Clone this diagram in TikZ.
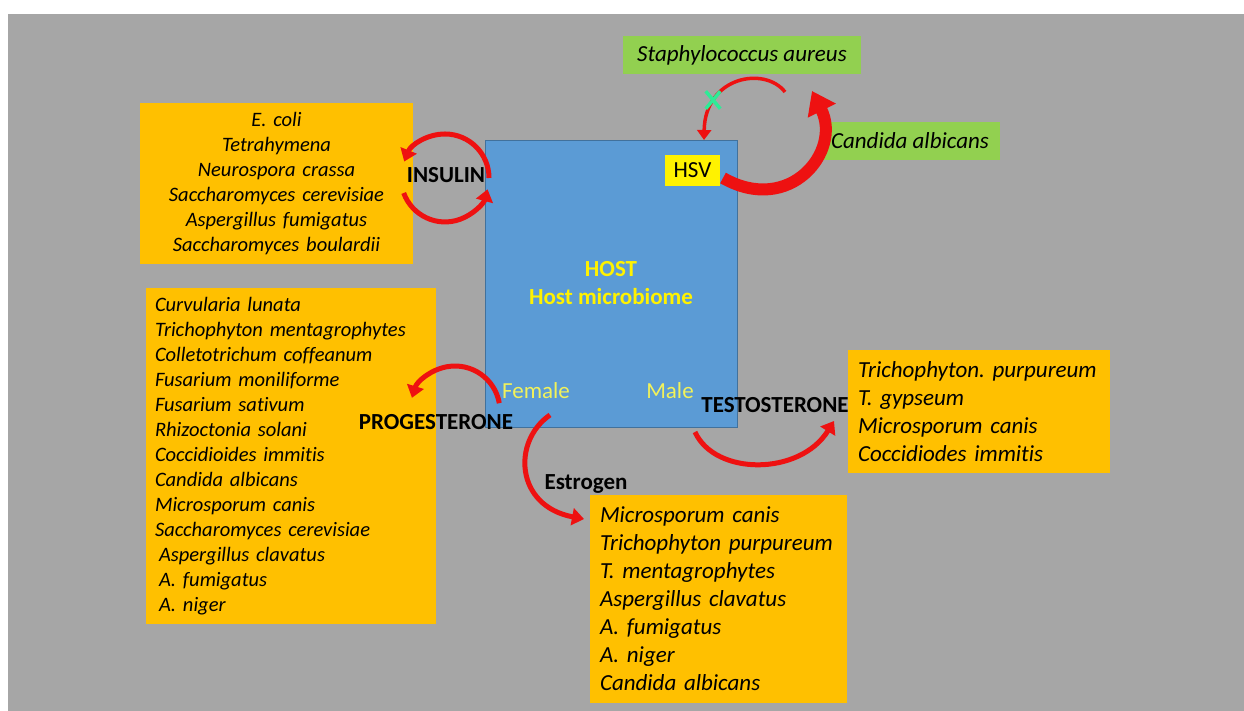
\documentclass[tikz,border=0pt]{standalone}
\usepackage{fontspec}
\setmainfont{Carlito}[Ligatures=NoCommon]
\usetikzlibrary{arrows.meta,shapes.misc}
\definecolor{bggrey}{HTML}{A6A6A6}
\definecolor{hostblue}{HTML}{5B9BD5}
\definecolor{hostedge}{HTML}{41719C}
\definecolor{boxorange}{HTML}{FFC000}
\definecolor{boxgreen}{HTML}{92D050}
\definecolor{arrowred}{HTML}{EE1111}
\definecolor{sexyellow}{HTML}{F2F25A}
\definecolor{crossgreen}{HTML}{2EEB96}
\frenchspacing
\begin{document}
\begin{tikzpicture}[x=1pt,y=1pt,
    listbox/.style={fill=boxorange,inner ysep=0pt,align=left,font=\itshape\fontsize{20.5}{25}\selectfont},
    bigbox/.style={fill=boxorange,inner ysep=0pt,align=left,font=\itshape\fontsize{23}{28}\selectfont},
    germbox/.style={fill=boxgreen,inner sep=0pt,font=\itshape\fontsize{23}{28}\selectfont},
    hormone/.style={inner sep=0pt,font=\bfseries\fontsize{23}{28}\selectfont},
    redarrow/.style={draw=arrowred,line width=5pt,-{Triangle[width=17pt,length=12pt]}}]
\useasboundingbox (0,0) rectangle (1244,711);
\fill[bggrey] (8,0) rectangle (1244,697);

% host
\node[fill=hostblue,draw=hostedge,minimum width=252,minimum height=287,
      align=center,text=yellow,font=\bfseries\fontsize{23}{28}\selectfont] (host) at (611,427.5)
      {HOST\\Host microbiome};
\node[text=sexyellow,inner sep=0pt,font=\fontsize{23}{28}\selectfont] (female) at (536,320) {Female};
\node[text=sexyellow,inner sep=0pt,font=\fontsize{23}{28}\selectfont] (male) at (670,320) {Male};
\node[fill=yellow,minimum width=55,minimum height=31,inner sep=0pt,
      font=\fontsize{23}{28}\selectfont] (hsv) at (692.5,540.5) {HSV};

% microbe lists
\node[listbox,align=center,text width=255,inner xsep=9,minimum height=161] (insbox) at (276.5,527.5)
  {E. coli\\Tetrahymena\\Neurospora crassa\\Saccharomyces cerevisiae\\Aspergillus fumigatus\\Saccharomyces boulardii};
\node[listbox,text width=272,inner xsep=9,minimum height=336] (probox) at (291,255)
  {Curvularia lunata\\Trichophyton mentagrophytes\\Colletotrichum coffeanum\\Fusarium moniliforme\\
   Fusarium sativum\\Rhizoctonia solani\\Coccidioides immitis\\Candida albicans\\Microsporum canis\\
   Saccharomyces cerevisiae\\\hspace*{4pt}Aspergillus clavatus\\\hspace*{4pt}A. fumigatus\\\hspace*{4pt}A. niger};
\node[bigbox,text width=237,inner xsep=10,minimum height=208] (estbox) at (718.5,112)
  {Microsporum canis\\Trichophyton purpureum\\T. mentagrophytes\\Aspergillus clavatus\\A. fumigatus\\A. niger\\Candida albicans};
\node[bigbox,text width=246,inner xsep=8,minimum height=123] (tesbox) at (979,299.5)
  {\hspace*{2pt}Trichophyton. purpureum\\\hspace*{2pt}T. gypseum\\\hspace*{2pt}Microsporum canis\\\hspace*{2pt}Coccidiodes immitis};
\node[germbox,minimum width=238,minimum height=38] (staph) at (742,656) {Staphylococcus aureus};
\node[germbox,minimum width=180,minimum height=38] (candida) at (910,570) {Candida albicans};

% hormone labels
\node[hormone] (insulin) at (446,536) {INSULIN};
\node[hormone] (proges) at (436,289) {PROGESTERONE};
\node[hormone] (testo) at (775,306) {TESTOSTERONE};
\node[hormone] (estro) at (586,227) {Estrogen};

% arrows
\coordinate (insA) at (489,533);
\coordinate (insB) at (403.7,518);
\draw[redarrow] (insA) arc[start angle=0,end angle=158,radius=44];
\draw[redarrow] (insB) arc[start angle=200,end angle=345,radius=44];
\coordinate (proA) at (499.3,307.8);
\draw[redarrow] (proA) arc[start angle=10,end angle=163,radius=45];
\coordinate (estA) at (550,296);
\coordinate (estB) at (584,192);
\draw[redarrow] (estA) .. controls (512,270) and (515,205) .. (estB);
\coordinate (tesA) at (695,279);
\coordinate (tesB) at (834,290);
\draw[redarrow] (tesA) .. controls (715,235) and (800,235) .. (tesB);
\coordinate (staA) at (785,619);
\coordinate (staB) at (704,571);
\draw[redarrow,line width=3.5pt,-{Triangle[width=14pt,length=10pt]}] (staA) .. controls (765,645) and (705,635) .. (staB);
\coordinate (canA) at (723,533);
\coordinate (canB) at (812,620);
\draw[draw=arrowred,line width=12pt,-{Triangle[width=30pt,length=22pt]}]
  (canA) .. controls (790,495) and (842,560) .. (canB);
\node[cross out,draw=crossgreen,line width=3.5pt,minimum width=11pt,minimum height=14pt,inner sep=0pt] (cross) at (713,611) {};
\end{tikzpicture}
\end{document}
